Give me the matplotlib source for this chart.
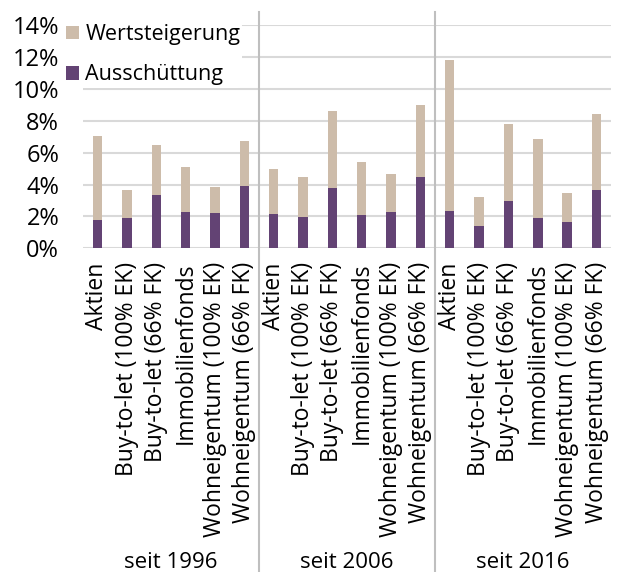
import matplotlib.pyplot as plt
import numpy as np

plt.rcParams['font.family'] = ['Open Sans', 'DejaVu Sans']

# data, in %
categories = ["Aktien", "Buy-to-let (100% EK)", "Buy-to-let (66% FK)",
              "Immobilienfonds", "Wohneigentum (100% EK)", "Wohneigentum (66% FK)"]
groups = ["seit 1996", "seit 2006", "seit 2016"]
ausschuettung = [1.76, 1.90, 3.33, 2.26, 2.20, 3.89,
                 2.13, 1.97, 3.77, 2.07, 2.26, 4.48,
                 2.32, 1.38, 2.95, 1.90, 1.63, 3.68]
total = [7.03, 3.68, 6.45, 5.07, 3.85, 6.72,
         5.00, 4.46, 8.64, 5.42, 4.69, 9.02,
         11.80, 3.22, 7.80, 6.84, 3.47, 8.41]
wertsteigerung = [t - a for t, a in zip(total, ausschuettung)]

purple = '#634374'
beige = '#cdbcaa'

fig = plt.figure(figsize=(6.18, 5.72), dpi=100)
ax = fig.add_axes([0.134, 0.566, 0.855, 0.39])

x = np.arange(len(total))
ax.bar(x, ausschuettung, width=0.32, color=purple, label='Ausschüttung', zorder=3)
ax.bar(x, wertsteigerung, width=0.32, bottom=ausschuettung, color=beige,
       label='Wertsteigerung', zorder=3)

ax.set_xlim(-0.5, len(total) - 0.5)
ax.set_ylim(0, 14)
ax.set_yticks(range(0, 15, 2))
ax.set_yticklabels(['%d%%' % v for v in range(0, 15, 2)], fontsize=17)
ax.yaxis.grid(True, color='#d9d9d9', linewidth=1.5, zorder=0)
ax.set_axisbelow(True)
for s in ax.spines.values():
    s.set_visible(False)
ax.tick_params(axis='both', length=0)
ax.tick_params(axis='y', pad=17)

ax.set_xticks(x)
ax.set_xticklabels(categories * 3, rotation=90, fontsize=16.5, ha='center', va='top')
ax.tick_params(axis='x', pad=10)

# separators between the groups
trans = ax.get_xaxis_transform()
for b in [5.5, 11.5]:
    ax.plot([b, b], [-1.46, 1.058], color='#bfbfbf', linewidth=1.5,
            transform=trans, clip_on=False, zorder=1)

for i, g in enumerate(groups):
    ax.text(i * 6 + 2.5, -1.408, g, transform=trans, ha='center', va='center',
            fontsize=16)

handles, labels = ax.get_legend_handles_labels()
leg = ax.legend(handles[::-1], labels[::-1], loc='upper left', bbox_to_anchor=(-0.036, 1.015),
                fontsize=15.5, frameon=True, framealpha=1, edgecolor='none',
                handlelength=0.6, handleheight=0.6, handletextpad=0.3,
                labelspacing=0.9, borderpad=0.1, borderaxespad=0)

fig.savefig('out.png', dpi=100)
